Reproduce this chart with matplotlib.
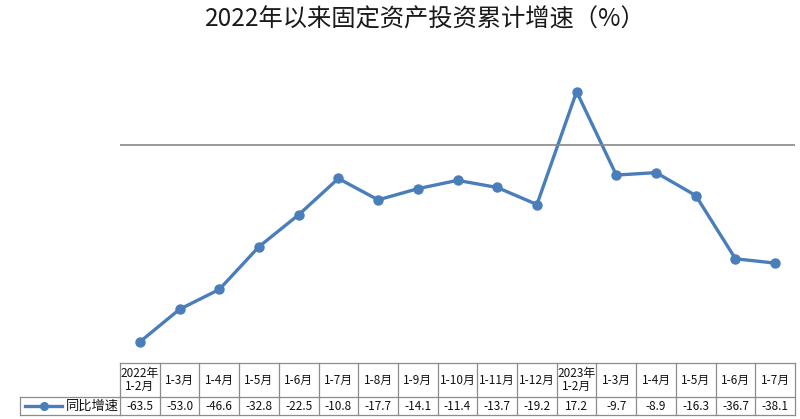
import matplotlib
matplotlib.use("Agg")
import matplotlib.pyplot as plt
import matplotlib.transforms as mtransforms
from matplotlib.lines import Line2D

plt.rcParams['font.family'] = ['Noto Sans CJK SC', 'DejaVu Sans']

categories = ["2022年\n1-2月", "1-3月", "1-4月", "1-5月", "1-6月", "1-7月", "1-8月", "1-9月",
              "1-10月", "1-11月", "1-12月", "2023年\n1-2月", "1-3月", "1-4月", "1-5月", "1-6月", "1-7月"]
values = [-63.5, -53.0, -46.6, -32.8, -22.5, -10.8, -17.7, -14.1, -11.4, -13.7, -19.2,
          17.2, -9.7, -8.9, -16.3, -36.7, -38.1]
series_name = "同比增速"
title = "2022年以来固定资产投资累计增速（%）"

W, H = 800, 419
fig = plt.figure(figsize=(W / 100, H / 100), dpi=100)

def fy(py):
    return 1 - py / H

left_px, right_px = 120, 795
top_px, bot_px = 52, 362
ax = fig.add_axes([left_px / W, fy(bot_px), (right_px - left_px) / W, (bot_px - top_px) / H])
n = len(values)
x = list(range(n))
color = "#4a7ebb"
ax.plot(x, values, color=color, lw=2.4, marker='o', ms=6.5, solid_capstyle='round',
        solid_joinstyle='round')
ax.axhline(0, color='#888888', lw=1.2)
ax.set_xlim(-0.5, n - 0.5)
ax.set_ylim(-70, 30)
ax.axis('off')

fig.text(0.532, fy(20), title, ha='center', va='center', fontsize=17.5, color='#1a1a1a')

# table
trans = mtransforms.blended_transform_factory(ax.transData, fig.transFigure)
tcol = '#8c8c8c'
y0, y1, y2 = 363, 397, 415
fs = 8.5
for yy in (y0, y1, y2):
    fig.add_artist(Line2D([-0.5, n - 0.5], [fy(yy), fy(yy)], transform=trans, color=tcol, lw=0.9))
for i in range(n + 1):
    xx = i - 0.5
    fig.add_artist(Line2D([xx, xx], [fy(y0), fy(y2)], transform=trans, color=tcol, lw=0.9))
lx0 = 20
for yy in (y1, y2):
    fig.add_artist(Line2D([lx0 / W, left_px / W], [fy(yy), fy(yy)], transform=fig.transFigure,
                          color=tcol, lw=0.9))
fig.add_artist(Line2D([lx0 / W, lx0 / W], [fy(y1), fy(y2)], transform=fig.transFigure, color=tcol, lw=0.9))
ym = fy((y1 + y2) / 2)
fig.add_artist(Line2D([25 / W, 62 / W], [ym, ym], transform=fig.transFigure, color=color, lw=2.4))
fig.add_artist(Line2D([44 / W], [ym], transform=fig.transFigure, color=color, marker='o', ms=5.5, lw=0))
fig.text(66 / W, ym, series_name, ha='left', va='center', fontsize=9.5, color='#111111')

for i in range(n):
    fig.text(i, fy((y0 + y1) / 2), categories[i], transform=trans, ha='center', va='center',
             fontsize=fs, linespacing=0.95, color='#111111')
    fig.text(i, ym, f"{values[i]:.1f}", transform=trans, ha='center', va='center',
             fontsize=fs, color='#111111')

fig.savefig("out.png", dpi=100)
